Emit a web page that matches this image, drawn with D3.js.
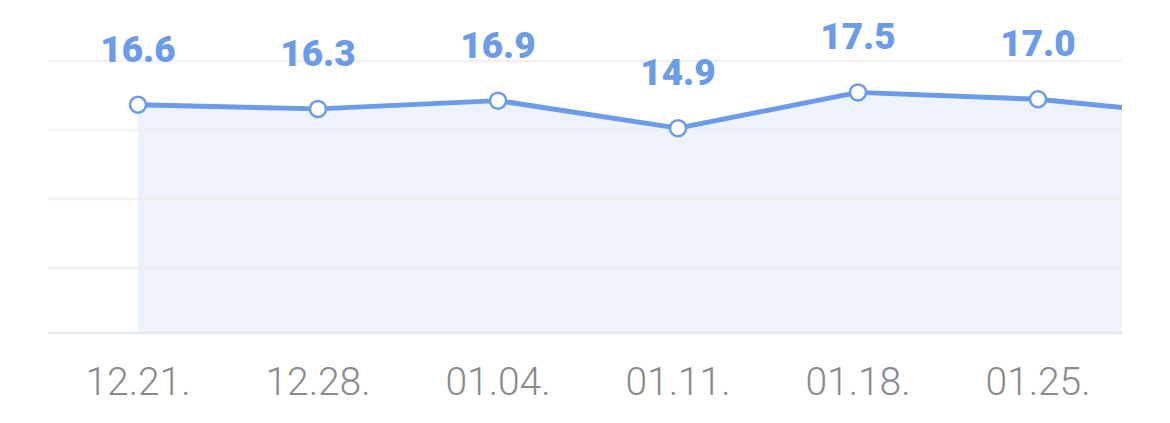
<!DOCTYPE html>
<html>
<head>
<meta charset="utf-8">
<script src="https://cdn.jsdelivr.net/npm/d3@7"></script>
<style>
  html, body { margin: 0; padding: 0; background: #fff; }
  svg { display: block; }
</style>
</head>
<body>
<svg width="1170" height="423"></svg>
<script>
/* global d3 */
var svg = d3.select('svg')

// data (last week runs off the right edge)
let weeks = ['12.21.', '12.28.', '01.04.', '01.11.', '01.18.', '01.25.', '02.01.']
let values = [16.6, 16.3, 16.9, 14.9, 17.5, 17.0, 15.7]
let gridSteps = [1, 2, 3, 4]

let lineC = '#6b9be9'
let areaC = '#eef2fb'
let gridC = '#eeeeee'
let baseC = '#e6e9f0'
let tickC = '#8a8a8a'

let left = 48
let right = 1122
let bottom = 333

var x = d3.scalePoint()
  .domain(weeks)
  .range([138, 1218])

var y = d3.scaleLinear()
  .domain([0, 20])
  .range([bottom, 58])

// grid bands sit on their own even spacing
var gy = d3.scaleLinear()
  .domain([0, 4])
  .range([337, 61])

var defs = svg.append('defs')
defs.append('clipPath')
  .attr('id', 'plot')
  .append('rect')
  .attr('x', left)
  .attr('y', 0)
  .attr('width', right - left)
  .attr('height', 423)

var pts = weeks.map((w, i) => ({ week: w, value: values[i] }))
// only the weeks that fall inside the plot get labels
var shown = pts.filter(d => x(d.week) <= right)

// area
svg.append('path')
  .datum(pts)
  .attr('clip-path', 'url(#plot)')
  .attr('fill', areaC)
  .attr('d', d3.area()
    .x(d => x(d.week))
    .y0(bottom)
    .y1(d => y(d.value)))

// grid
svg.append('g')
  .selectAll('line')
  .data(gridSteps)
  .enter().append('line')
    .attr('x1', left)
    .attr('x2', right)
    .attr('y1', d => gy(d))
    .attr('y2', d => gy(d))
    .attr('stroke', gridC)
    .attr('stroke-width', 2.5)
    .attr('stroke-opacity', 0.85)

svg.append('line')
  .attr('x1', left)
  .attr('x2', right)
  .attr('y1', y(0))
  .attr('y2', y(0))
  .attr('stroke', baseC)
  .attr('stroke-width', 2.5)

var plot = svg.append('g').attr('clip-path', 'url(#plot)')

plot.append('path')
  .datum(pts)
  .attr('fill', 'none')
  .attr('stroke', lineC)
  .attr('stroke-width', 5)
  .attr('stroke-linejoin', 'round')
  .attr('d', d3.line()
    .x(d => x(d.week))
    .y(d => y(d.value)))

plot.append('g')
  .selectAll('circle')
  .data(shown)
  .enter().append('circle')
    .attr('cx', d => x(d.week))
    .attr('cy', d => y(d.value))
    .attr('r', 8)
    .attr('fill', '#fff')
    .attr('stroke', lineC)
    .attr('stroke-width', 2.5)

svg.append('g')
  .selectAll('text')
  .data(shown)
  .enter().append('text')
    .attr('x', d => x(d.week))
    .attr('y', d => y(d.value) - 43)
    .attr('text-anchor', 'middle')
    .attr('fill', lineC)
    .style('font-family', 'Roboto, sans-serif')
    .style('font-weight', 900)
    .style('font-size', '37px')
    .text(d => d.value.toFixed(1))

// x axis labels
svg.append('g')
  .selectAll('text')
  .data(shown)
  .enter().append('text')
    .attr('x', d => x(d.week))
    .attr('y', 395)
    .attr('text-anchor', 'middle')
    .attr('fill', tickC)
    .style('font-family', 'Roboto, sans-serif')
    .style('font-weight', 300)
    .style('font-size', '39px')
    .text(d => d.week)
</script>
</body>
</html>
